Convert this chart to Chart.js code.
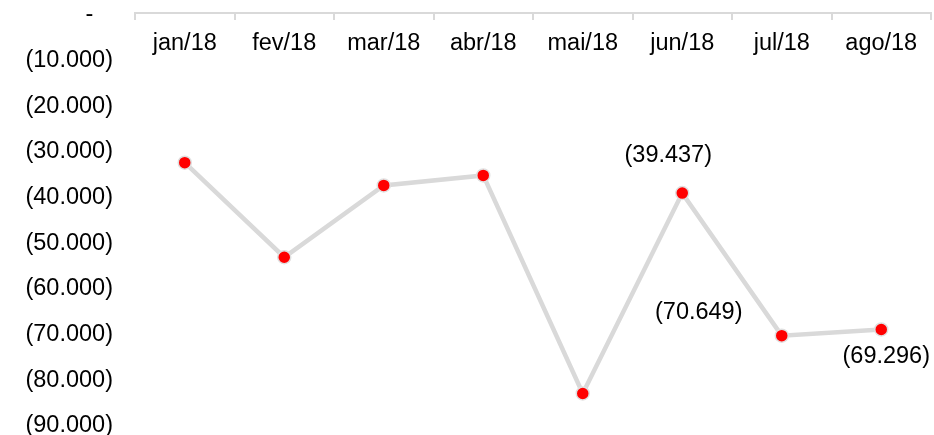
<!DOCTYPE html>
<html>
<head>
<meta charset="utf-8">
<script src="https://cdn.jsdelivr.net/npm/chart.js@4/dist/chart.umd.min.js"></script>
<style>
  html, body { margin: 0; padding: 0; background: #ffffff; }
  #wrap { width: 934px; height: 435px; position: relative; }
</style>
</head>
<body>
<div id="wrap"><canvas id="c"></canvas></div>
<script>
const categories = ['jan/18', 'fev/18', 'mar/18', 'abr/18', 'mai/18', 'jun/18', 'jul/18', 'ago/18'];
const values = [-32770, -53480, -37750, -35560, -83310, -39437, -70649, -69296];
const labelledPoints = [5, 6, 7];
const yTickValues = [0, -10000, -20000, -30000, -40000, -50000, -60000, -70000, -80000, -90000];

function fmt(v) {
  if (v === 0) return '-   ';
  const s = Math.abs(Math.round(v)).toString().replace(/\B(?=(\d{3})+(?!\d))/g, '.');
  return v < 0 ? '(' + s + ')' : s;
}

const FONT = "'Liberation Sans', Arial, sans-serif";
const FS = 23.5;

const labelOffsets = { 5: [-14, -38], 6: [-83, -23], 7: [5, 27] };

const dataLabelPlugin = {
  id: 'dataLabels',
  afterDatasetsDraw(chart) {
    const ctx = chart.ctx;
    const meta = chart.getDatasetMeta(0);
    ctx.save();
    ctx.font = FS + 'px ' + FONT;
    ctx.fillStyle = '#000000';
    ctx.textAlign = 'center';
    ctx.textBaseline = 'middle';
    labelledPoints.forEach(i => {
      const el = meta.data[i];
      const off = labelOffsets[i];
      ctx.fillText(fmt(values[i]), el.x + off[0], el.y + off[1]);
    });
    ctx.restore();
  }
};

new Chart(document.getElementById('c'), {
  type: 'line',
  data: {
    labels: categories,
    datasets: [{
      data: values,
      borderColor: '#d9d9d9',
      borderWidth: 4.5,
      pointRadius: 6.5,
      pointBorderWidth: 1.5,
      pointBackgroundColor: '#ff0000',
      pointBorderColor: '#e0e0e0',
      tension: 0,
      fill: false
    }]
  },
  options: {
    responsive: true,
    maintainAspectRatio: false,
    animation: false,
    layout: { autoPadding: false, padding: { left: 0, right: 3, top: 13, bottom: 11 } },
    plugins: { legend: { display: false }, tooltip: { enabled: false } },
    scales: {
      x: {
        type: 'category',
        position: { y: 0 },
        offset: true,
        grid: {
          display: true,
          drawOnChartArea: false,
          drawTicks: true,
          tickLength: 6,
          color: '#d9d9d9',
          lineWidth: 2,
          offset: true
        },
        border: { display: true, color: '#d9d9d9', width: 2 },
        ticks: {
          color: '#000000',
          font: { family: FONT, size: FS },
          padding: 10,
          maxRotation: 0,
          autoSkip: false
        },
        afterFit(scale) {
          scale.height = 0;
          scale.paddingLeft = 0;
          scale.paddingRight = 0;
        }
      },
      y: {
        min: -90000,
        max: 0,
        grid: { display: false, drawTicks: false },
        border: { display: false },
        afterBuildTicks(scale) {
          scale.ticks = yTickValues.map(v => ({ value: v }));
        },
        ticks: {
          color: '#000000',
          font: { family: FONT, size: FS },
          padding: 22,
          labelOffset: 2,
          callback: (v) => fmt(v)
        },
        afterFit(scale) {
          scale.width = 135;
          scale.paddingTop = 0;
          scale.paddingBottom = 0;
        }
      }
    }
  },
  plugins: [dataLabelPlugin]
});
</script>
</body>
</html>
